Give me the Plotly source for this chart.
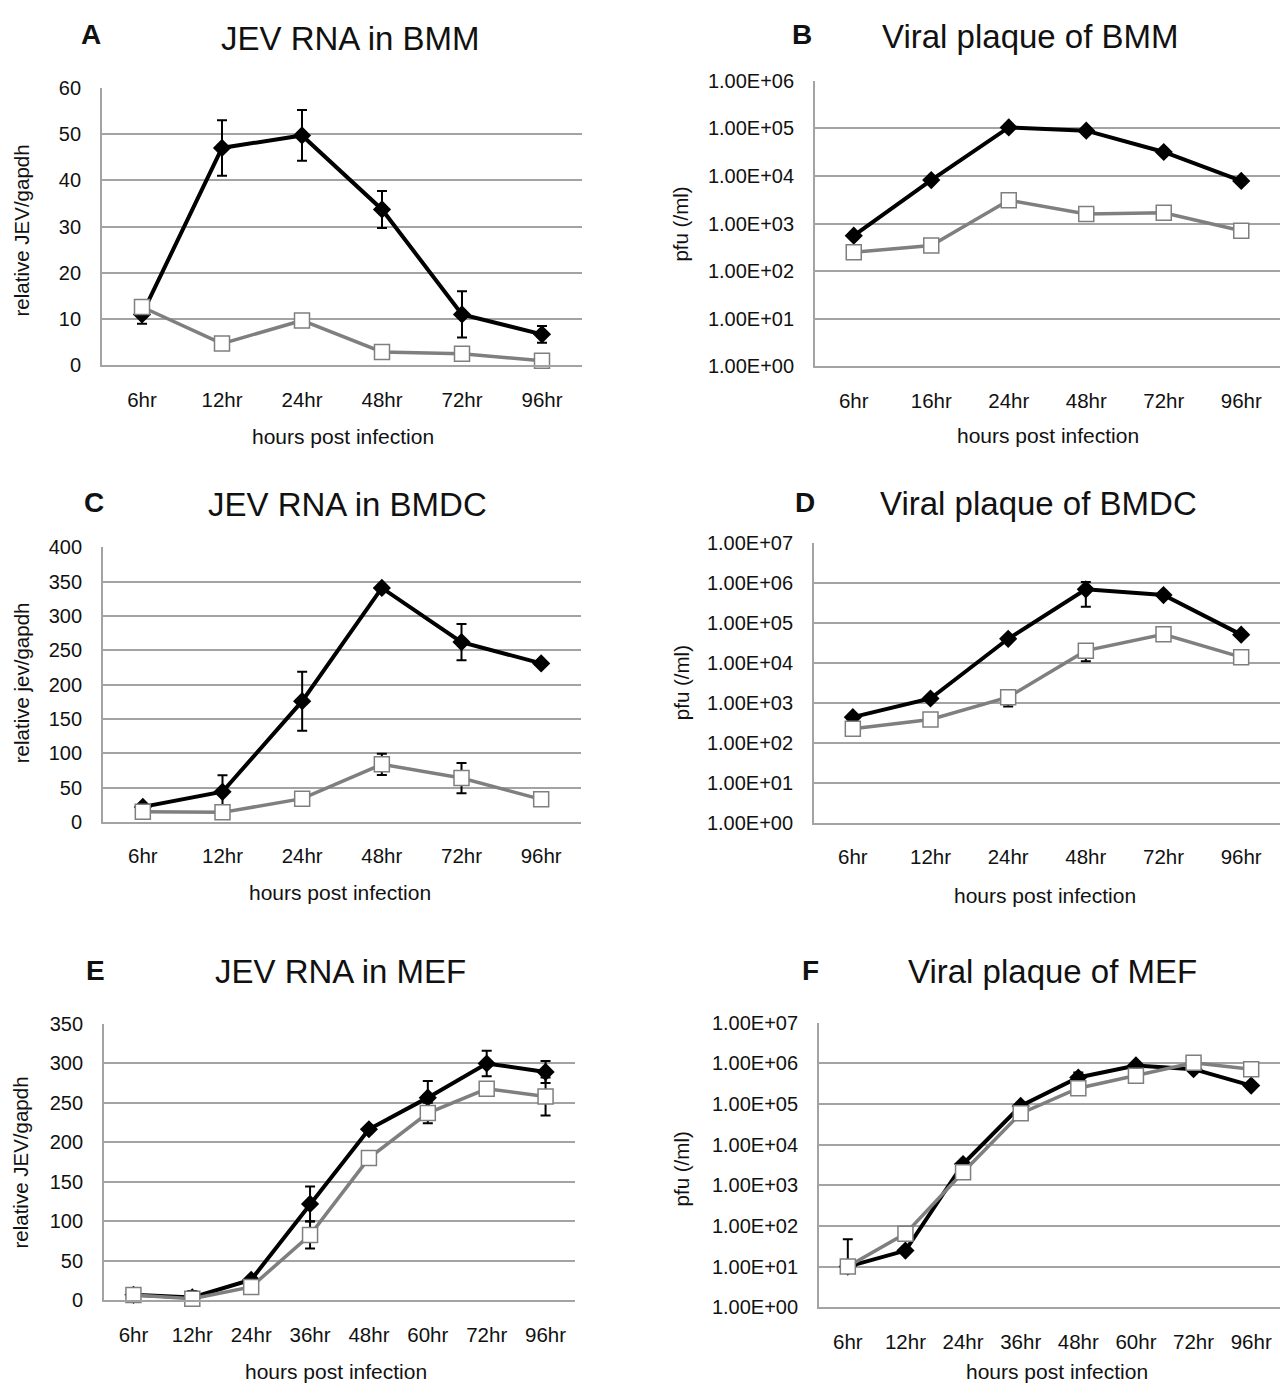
import plotly.graph_objects as go

W, H = 1280, 1393
FONT = "Liberation Sans, Arial, sans-serif"

# ---------------- data ----------------
cats_a = ["6hr", "12hr", "24hr", "48hr", "72hr", "96hr"]
a_black = [11, 47, 49.7, 33.7, 11, 6.7]
a_black_err = [2, 6, 5.5, 4, 5, 1.8]
a_gray = [12.6, 4.7, 9.7, 2.9, 2.5, 1.0]

cats_b = ["6hr", "16hr", "24hr", "48hr", "72hr", "96hr"]
b_black = [556, 8200, 1.05e5, 9.0e4, 3.2e4, 7900]
b_gray = [251, 345, 3100, 1600, 1690, 705]

cats_c = ["6hr", "12hr", "24hr", "48hr", "72hr", "96hr"]
c_black = [22, 44, 176, 341, 262, 231]
c_black_err = [3, 24, 43, 4, 26.5, 4]
c_gray = [15, 14, 34, 84, 64, 33]
c_gray_err = [2, 2, 3, 15.5, 22, 3]

cats_d = ["6hr", "12hr", "24hr", "48hr", "72hr", "96hr"]
d_black = [447, 1310, 4.1e4, 7.1e5, 5.1e5, 5.2e4]
d_black_plus = [0, 0, 0, 3.8e5, 0, 0]
d_black_minus = [0, 0, 0, 4.5e5, 0, 0]
d_gray = [230, 392, 1410, 2.07e4, 5.3e4, 1.42e4]
d_gray_plus = [0, 0, 580, 9500, 0, 0]
d_gray_minus = [0, 0, 580, 9500, 0, 0]

cats_e = ["6hr", "12hr", "24hr", "36hr", "48hr", "60hr", "72hr", "96hr"]
e_black = [7, 3.7, 26, 122, 216.5, 256.5, 299.7, 289]
e_black_err = [2, 8, 2, 22, 3, 21, 16, 14]
e_gray = [6.6, 2, 17, 82.7, 180, 237, 267.7, 258]
e_gray_err = [1, 1, 2, 17, 2, 13, 3, 24]

cats_f = ["6hr", "12hr", "24hr", "36hr", "48hr", "60hr", "72hr", "96hr"]
f_black = [10, 24.7, 3340, 9.0e4, 4.5e5, 8.9e5, 7.2e5, 2.85e5]
f_black_plus = [37, 0, 0, 0, 1.5e5, 0, 0, 0]
f_black_minus = [0, 0, 0, 0, 0, 0, 0, 0]
f_gray = [10, 64.6, 2100, 5.9e4, 2.45e5, 4.97e5, 1.04e6, 7.2e5]

log_vals6 = [1, 10, 100, 1e3, 1e4, 1e5, 1e6]
log_text6 = ["1.00E+00", "1.00E+01", "1.00E+02", "1.00E+03", "1.00E+04", "1.00E+05", "1.00E+06"]
log_vals7 = log_vals6 + [1e7]
log_text7 = log_text6 + ["1.00E+07"]

# ---------------- layout helpers ----------------
GRID = "#a3a3a3"
BLACK = "#000000"
GRAY = "#7f7f7f"


def px_x(v):
    return v / W


def px_y(v):
    return 1 - v / H


panels = [
    dict(cats=cats_a, box=(102, 582, 78, 360), log=False, rng=[0, 60], dtick=10,
         title="JEV RNA in BMM", tpos=(350, 28), letter="A", lpos=(91, 24),
         ytitle="relative JEV/gapdh", ytx=21, yty=223, xt_y=432, xt_x=343),
    dict(cats=cats_b, box=(815, 1280, 71, 361), log=True, rng=[0, 6],
         tv=log_vals6, tt=log_text6,
         title="Viral plaque of BMM", tpos=(1030, 26), letter="B", lpos=(802, 24),
         ytitle="pfu (/ml)", ytx=681, yty=217, xt_y=431, xt_x=1048),
    dict(cats=cats_c, box=(103, 581, 545, 824), log=False, rng=[0, 400], dtick=50,
         title="JEV RNA in BMDC", tpos=(347, 501), letter="C", lpos=(94, 499),
         ytitle="relative jev/gapdh", ytx=21, yty=683, xt_y=896, xt_x=340),
    dict(cats=cats_d, box=(814, 1280, 541, 825), log=True, rng=[0, 7],
         tv=log_vals7, tt=log_text7,
         title="Viral plaque of BMDC", tpos=(1038, 500), letter="D", lpos=(805, 499),
         ytitle="pfu (/ml)", ytx=681, yty=683, xt_y=899, xt_x=1045),
    dict(cats=cats_e, box=(104, 575, 1029, 1310), log=False, rng=[0, 350], dtick=50,
         title="JEV RNA in MEF", tpos=(340, 976), letter="E", lpos=(95, 975),
         ytitle="relative JEV/gapdh", ytx=21, yty=1170, xt_y=1382, xt_x=336),
    dict(cats=cats_f, box=(819, 1280, 1028, 1317), log=True, rng=[0, 7],
         tv=log_vals7, tt=log_text7,
         title="Viral plaque of MEF", tpos=(1052, 976), letter="F", lpos=(810, 975),
         ytitle="pfu (/ml)", ytx=681, yty=1177, xt_y=1382, xt_x=1057),
]

series = [
    (a_black, dict(type="data", array=a_black_err, visible=True), a_gray, None),
    (b_black, None, b_gray, None),
    (c_black, dict(type="data", array=c_black_err, visible=True), c_gray,
     dict(type="data", array=c_gray_err, visible=True)),
    (d_black, dict(type="data", array=d_black_plus, arrayminus=d_black_minus, symmetric=False, visible=True),
     d_gray, dict(type="data", array=d_gray_plus, arrayminus=d_gray_minus, symmetric=False, visible=True)),
    (e_black, dict(type="data", array=e_black_err, visible=True), e_gray,
     dict(type="data", array=e_gray_err, visible=True)),
    (f_black, dict(type="data", array=f_black_plus, arrayminus=f_black_minus, symmetric=False, visible=True),
     f_gray, None),
]

fig = go.Figure()
annotations = []
layout = {}

for i, (p, s) in enumerate(zip(panels, series)):
    n = i + 1
    xa = "x" if n == 1 else f"x{n}"
    ya = "y" if n == 1 else f"y{n}"
    xkey = "xaxis" if n == 1 else f"xaxis{n}"
    ykey = "yaxis" if n == 1 else f"yaxis{n}"
    x0, x1, yt, yb = p["box"]
    cats = p["cats"]
    bl, ble, gr, gre = s
    for e in (ble, gre):
        if e is not None:
            e.update(color=BLACK, thickness=2, width=5)
    fig.add_trace(go.Scatter(
        x=cats, y=bl, xaxis=xa, yaxis=ya, mode="lines+markers",
        line=dict(color=BLACK, width=4),
        marker=dict(symbol="diamond", size=14, color=BLACK, line=dict(width=0)),
        error_y=ble if ble is not None else dict(visible=False),
        showlegend=False, cliponaxis=False))
    fig.add_trace(go.Scatter(
        x=cats, y=gr, xaxis=xa, yaxis=ya, mode="lines+markers",
        line=dict(color=GRAY, width=3.5),
        marker=dict(symbol="square", size=15, color="white", line=dict(color=GRAY, width=1.5)),
        error_y=gre if gre is not None else dict(visible=False),
        showlegend=False, cliponaxis=False))

    layout[xkey] = dict(
        domain=[px_x(x0), px_x(x1)], anchor=ya, type="category",
        categoryorder="array", categoryarray=cats,
        range=[-0.5, len(cats) - 0.5], showgrid=False, zeroline=False,
        showline=True, linecolor=GRID, linewidth=1.5, ticks="",
        tickfont=dict(family=FONT, size=20.5, color="#111"),
        ticklabelstandoff=15, fixedrange=True)
    yd = dict(
        domain=[px_y(yb), px_y(yt)], anchor=xa, showgrid=True, gridcolor=GRID,
        gridwidth=1.8, zeroline=False, showline=True, linecolor=GRID, linewidth=1.8,
        ticks="", tickfont=dict(family=FONT, size=20, color="#111"),
        ticklabelstandoff=15, fixedrange=True)
    if p["log"]:
        yd.update(type="log", range=p["rng"], tickvals=p["tv"], ticktext=p["tt"])
    else:
        yd.update(range=p["rng"], dtick=p["dtick"], tick0=0)
    layout[ykey] = yd

    annotations.append(dict(text=p["title"], x=px_x(p["tpos"][0]), y=px_y(p["tpos"][1]),
                            xref="paper", yref="paper", showarrow=False, xanchor="center",
                            yanchor="middle", font=dict(family=FONT, size=33, color="#111")))
    annotations.append(dict(text="<b>" + p["letter"] + "</b>", x=px_x(p["lpos"][0]), y=px_y(p["lpos"][1]),
                            xref="paper", yref="paper", showarrow=False, xanchor="center",
                            yanchor="middle", font=dict(family=FONT, size=28, color="#111")))
    annotations.append(dict(text=p["ytitle"], x=px_x(p["ytx"]), y=px_y(p["yty"]),
                            xref="paper", yref="paper", showarrow=False, xanchor="center",
                            yanchor="middle", textangle=-90,
                            font=dict(family=FONT, size=20.5, color="#111")))
    annotations.append(dict(text="hours post infection", x=px_x(p["xt_x"]), y=px_y(p["xt_y"]),
                            xref="paper", yref="paper", showarrow=False, xanchor="center",
                            yanchor="middle", font=dict(family=FONT, size=21, color="#111")))

fig.update_layout(
    width=W, height=H, margin=dict(l=0, r=0, t=0, b=0),
    paper_bgcolor="white", plot_bgcolor="white",
    annotations=annotations, showlegend=False, **layout)

post = ("document.body.style.margin='0';document.body.style.padding='0';"
        "document.body.style.overflow='hidden';"
        "var d=document.getElementById('{plot_id}');"
        "d.style.position='absolute';d.style.left='0px';d.style.top='0px';")

fig.write_html("out.html", post_script=post, config={"displayModeBar": False})
